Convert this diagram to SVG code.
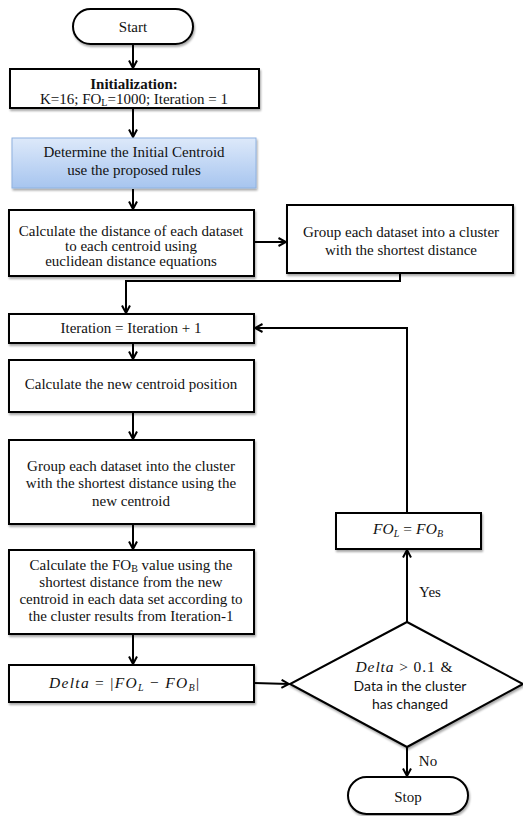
<svg xmlns="http://www.w3.org/2000/svg" width="523" height="816" viewBox="0 0 523 816">
<defs>
<linearGradient id="blueG" x1="0" y1="0" x2="0" y2="1">
<stop offset="0" stop-color="#dde9fa"/>
<stop offset="1" stop-color="#a7c5ef"/>
</linearGradient>
<filter id="sh" x="-10%" y="-10%" width="120%" height="130%">
<feGaussianBlur in="SourceAlpha" stdDeviation="1.2"/>
<feOffset dx="1" dy="1.5" result="b"/>
<feComponentTransfer><feFuncA type="linear" slope="0.35"/></feComponentTransfer>
<feMerge><feMergeNode/><feMergeNode in="SourceGraphic"/></feMerge>
</filter>
<marker id="ah" viewBox="0 0 10 10" refX="9" refY="5" markerWidth="10" markerHeight="10" markerUnits="userSpaceOnUse" orient="auto">
<path d="M1.5,1 L9,5 L1.5,9" fill="none" stroke="#000" stroke-width="2"/>
</marker>
</defs>
<style>
.box{fill:#fff;stroke:#000;stroke-width:2}
.blue{fill:url(#blueG);stroke:#8fb2e0;stroke-width:1}
.t{font-family:"Liberation Serif","Times New Roman",serif;font-size:15px;fill:#111;text-anchor:middle}
.m{font-family:"Liberation Serif","DejaVu Serif",serif;font-size:15.5px;font-style:italic;fill:#111;text-anchor:middle}
.s{font-family:Lato,"Liberation Sans",sans-serif;font-size:14px;fill:#111;text-anchor:middle}
.c{fill:none;stroke:#000;stroke-width:2}
</style>
<g id="connectors">
<line class="c" x1="133" y1="44" x2="133" y2="68" marker-end="url(#ah)"/>
<line class="c" x1="133" y1="108" x2="133" y2="137" marker-end="url(#ah)"/>
<line class="c" x1="133" y1="189" x2="133" y2="209" marker-end="url(#ah)"/>
<line class="c" x1="254" y1="242" x2="286" y2="242" marker-end="url(#ah)"/>
<polyline class="c" points="400,273 400,281 126,281 126,313" marker-end="url(#ah)"/>
<line class="c" x1="133" y1="343" x2="133" y2="359" marker-end="url(#ah)"/>
<line class="c" x1="133" y1="412" x2="133" y2="439" marker-end="url(#ah)"/>
<line class="c" x1="133" y1="524" x2="133" y2="549" marker-end="url(#ah)"/>
<line class="c" x1="133" y1="634" x2="133" y2="664" marker-end="url(#ah)"/>
<line class="c" x1="254" y1="683" x2="289" y2="684" marker-end="url(#ah)"/>
<line class="c" x1="407" y1="622" x2="407" y2="550" marker-end="url(#ah)"/>
<polyline class="c" points="407,513 407,328 255,328" marker-end="url(#ah)"/>
<line class="c" x1="407" y1="747" x2="407" y2="776" marker-end="url(#ah)"/>
<text class="t" x="430" y="597">Yes</text>
<text class="t" x="428" y="766">No</text>
</g>
<g id="start">
<rect class="box" x="73" y="9" width="120" height="35" rx="17.5" filter="url(#sh)"/>
<text class="t" x="133" y="32">Start</text>
</g>
<g id="init">
<rect class="box" x="10" y="69" width="249" height="39" filter="url(#sh)"/>
<text class="t" x="134" y="89" font-weight="bold">Initialization:</text>
<text class="t" x="134" y="104">K=16; FO<tspan font-size="10" dy="2">L</tspan><tspan dy="-2">=1000; Iteration = 1</tspan></text>
</g>
<g id="initcentroid">
<rect class="blue" x="12" y="138" width="244" height="50" filter="url(#sh)"/>
<text class="t" x="134" y="157">Determine the Initial Centroid</text>
<text class="t" x="134" y="175">use the proposed rules</text>
</g>
<g id="calcdist">
<rect class="box" x="9" y="210" width="245" height="66" filter="url(#sh)"/>
<text class="t" x="131" y="236">Calculate the distance of each dataset</text>
<text class="t" x="131" y="251">to each centroid using</text>
<text class="t" x="131" y="266">euclidean distance equations</text>
</g>
<g id="group1">
<rect class="box" x="287" y="205" width="226" height="68" filter="url(#sh)"/>
<text class="t" x="401" y="237">Group each dataset into a cluster</text>
<text class="t" x="401" y="255">with the shortest distance</text>
</g>
<g id="iter">
<rect class="box" x="9" y="314" width="245" height="29" filter="url(#sh)"/>
<text class="t" x="131" y="333">Iteration = Iteration + 1</text>
</g>
<g id="newcentroid">
<rect class="box" x="9" y="360" width="245" height="52" filter="url(#sh)"/>
<text class="t" x="131" y="389">Calculate the new centroid position</text>
</g>
<g id="group2">
<rect class="box" x="9" y="440" width="245" height="84" filter="url(#sh)"/>
<text class="t" x="131" y="471">Group each dataset into the cluster</text>
<text class="t" x="131" y="488">with the shortest distance using the</text>
<text class="t" x="131" y="506">new centroid</text>
</g>
<g id="fob">
<rect class="box" x="9" y="550" width="245" height="84" filter="url(#sh)"/>
<text class="t" x="131" y="570">Calculate the FO<tspan font-size="10" dy="2">B</tspan><tspan dy="-2"> value using the</tspan></text>
<text class="t" x="131" y="587">shortest distance from the new</text>
<text class="t" x="131" y="604">centroid in each data set according to</text>
<text class="t" x="131" y="621">the cluster results from Iteration-1</text>
</g>
<g id="delta">
<rect class="box" x="9" y="665" width="245" height="37" filter="url(#sh)"/>
<text class="m" x="124" y="688" textLength="150" lengthAdjust="spacing">Delta <tspan font-style="normal">= |</tspan>FO<tspan font-size="10" dy="3">L</tspan><tspan dy="-3" font-style="normal"> − </tspan>FO<tspan font-size="10" dy="3">B</tspan><tspan dy="-3" font-style="normal">|</tspan></text>
</g>
<g id="fol">
<rect class="box" x="336" y="513" width="145" height="36" filter="url(#sh)"/>
<text class="m" x="408" y="534" textLength="70" lengthAdjust="spacing">FO<tspan font-size="10" dy="3">L</tspan><tspan dy="-3" font-style="normal"> = </tspan>FO<tspan font-size="10" dy="3">B</tspan></text>
</g>
<g id="decision">
<polygon class="box" points="407,622 523,684 407,747 290,684" filter="url(#sh)"/>
<text class="m" x="404" y="672" textLength="97" lengthAdjust="spacing">Delta <tspan font-style="normal">&gt; 0.1 &amp;</tspan></text>
<text class="s" x="410" y="691">Data in the cluster</text>
<text class="s" x="410" y="709">has changed</text>
</g>
<g id="stop">
<rect class="box" x="348" y="777" width="120" height="37" rx="18.5" filter="url(#sh)"/>
<text class="t" x="408" y="802">Stop</text>
</g>
</svg>
